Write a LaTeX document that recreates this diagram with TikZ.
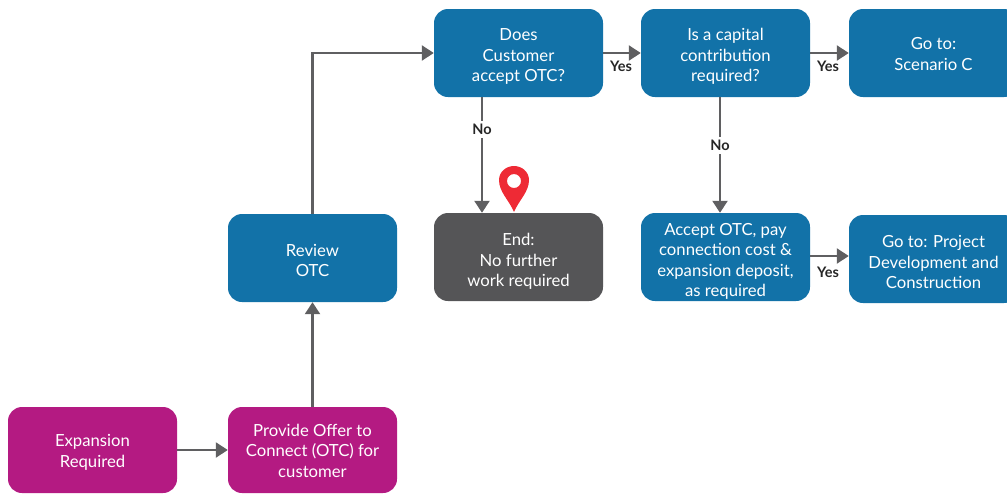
\documentclass[tikz,border=0pt]{standalone}
\usepackage{fontspec}
\setmainfont{Lato}
\usetikzlibrary{arrows.meta}
\definecolor{blu}{HTML}{1272A8}
\definecolor{mag}{HTML}{B41A82}
\definecolor{gry}{HTML}{555557}
\definecolor{arr}{HTML}{5F5F61}
\definecolor{pinred}{HTML}{EE2A35}
\newcommand\dn[1]{\rule{0pt}{\dimexpr 13pt+#1pt+#1pt\relax}}
\tikzset{
 x=1pt,y=-1pt,
 box/.style={rectangle,rounded corners=14pt,minimum width=169pt,minimum height=88pt,inner sep=0pt,align=center,text=white,font=\fontsize{16.7pt}{20.5pt}\selectfont},
 bluebox/.style={box,fill=blu},
 magbox/.style={box,fill=mag,minimum height=86pt},
 grybox/.style={box,fill=gry},
 conn/.style={draw=arr,line width=2.2pt,-{Triangle[length=12pt,width=15pt]}},
 lab/.style={fill=white,inner sep=3pt,font=\fontsize{14.5pt}{17pt}\selectfont\bfseries,text=black!85},
 ylab/.style={inner sep=0pt,font=\fontsize{14.5pt}{17pt}\selectfont\bfseries,text=black!85},
}
\begin{document}
\begin{tikzpicture}
\useasboundingbox (0,0) rectangle (1007,493);
\clip (0,0) rectangle (1007,493);
\node[magbox] (exp) at (92.5,450) {\dn{2}Expansion\\Required};
\node[magbox] (prov) at (312.5,450) {\dn{0.5}Provide Offer to\\Connect (OTC) for\\customer};
\node[bluebox] (rev) at (312.5,258) {\dn{2}Review\\OTC};
\node[bluebox] (does) at (518.5,53) {\dn{3}Does\\Customer\\accept OTC?};
\node[bluebox] (cap) at (725.5,53) {\dn{3}Is a capital\\contribution\\required?};
\node[bluebox] (goc) at (933.5,53) {\dn{0.5}Go to:\\Scenario C};
\node[grybox] (end) at (518.5,257) {\dn{4}End:\\No further\\work required};
\node[bluebox] (acc) at (725.5,257) {\dn{4}Accept OTC, pay\\connection cost \&\\expansion deposit,\\as required};
\node[bluebox] (proj) at (933.5,259) {\dn{3}Go to: Project\\Development and\\Construction};
\coordinate (nox) at (482,0);
\coordinate (capx) at (720,0);
\coordinate (acy) at (0,256);
\draw[conn] (exp) -- (prov);
\draw[conn] (prov.north -| rev.north) -- (rev.south);
\draw[conn] (rev.north) |- (does.west);
\draw[conn] (does) -- (cap);
\draw[conn] (cap) -- (goc);
\draw[conn] (does.south -| nox) -- node[lab,pos=.28] (n1) {No} (end.north -| nox);
\draw[conn] (cap.south -| capx) -- node[lab,pos=.42] (n2) {No} (acc.north -| capx);
\draw[conn] (acc.east |- acy) -- (proj.west |- acy);
\node[ylab] (y1) at (621,66) {Yes};
\node[ylab] (y2) at (828,66) {Yes};
\node[ylab] (y3) at (828,272) {Yes};
% map pin
\fill[pinred,even odd rule] (514,212) .. controls (509,200) and (499,192) .. (499,180)
  .. controls (499,172) and (506,166) .. (514,166)
  .. controls (522,166) and (529,172) .. (529,180)
  .. controls (529,192) and (519,200) .. (514,212) -- cycle
  (514,181) circle[radius=7];
\end{tikzpicture}
\end{document}
